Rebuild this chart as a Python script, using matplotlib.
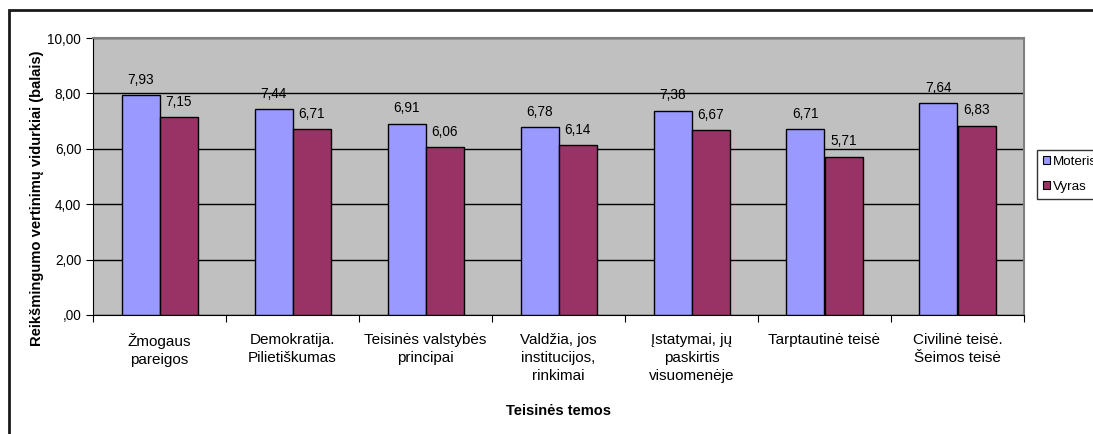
import matplotlib
matplotlib.use("Agg")
import matplotlib.pyplot as plt
import numpy as np
from matplotlib.patches import Rectangle

categories = ["Žmogaus\npareigos", "Demokratija.\nPilietiškumas", "Teisinės valstybės\nprincipai",
              "Valdžia, jos\ninstitucijos,\nrinkimai", "Įstatymai, jų\npaskirtis\nvisuomenėje",
              "Tarptautinė teisė", "Civilinė teisė.\nŠeimos teisė"]
moteris = [7.93, 7.44, 6.91, 6.78, 7.38, 6.71, 7.64]
vyras = [7.15, 6.71, 6.06, 6.14, 6.67, 5.71, 6.83]
yticks = [0, 2, 4, 6, 8, 10]
ytick_labels = [",00", "2,00", "4,00", "6,00", "8,00", "10,00"]

plt.rcParams['font.family'] = ['Liberation Sans', 'DejaVu Sans']

W, H = 1093, 434
fig = plt.figure(figsize=(W/100, H/100), dpi=100)
ax = fig.add_axes([93/W, 1-315/H, (1024-93)/W, (315-38)/H])
ax.set_facecolor("#C0C0C0")

x = np.arange(len(categories))
bw = 1/3.5
b1 = ax.bar(x - bw/2, moteris, bw, color="#9999FF", edgecolor="black", linewidth=1, label="Moteris", zorder=3)
b2 = ax.bar(x + bw/2, vyras, bw, color="#993366", edgecolor="black", linewidth=1, label="Vyras", zorder=3)

for rects, vals in ((b1, moteris), (b2, vyras)):
    for r, v in zip(rects, vals):
        ax.annotate(f"{v:.2f}".replace(".", ","), (r.get_x()+r.get_width()/2, v),
                    xytext=(0, 6), textcoords="offset points", ha="center", va="bottom",
                    fontsize=9.8, zorder=4)

ax.set_xlim(-0.5, len(categories)-0.5)
ax.set_ylim(0, 10)
ax.set_yticks(yticks)
ax.set_yticklabels(ytick_labels, fontsize=9.8)
ax.yaxis.grid(True, color="black", linewidth=1, zorder=1)
ax.set_axisbelow(True)

ax.set_xticks(np.arange(len(categories)+1) - 0.5, minor=False)
ax.set_xticklabels([])
ax.tick_params(axis="x", which="major", length=5, direction="out")
ax.set_xticks(x, minor=True)
ax.set_xticklabels(categories, minor=True, fontsize=11, linespacing=1.37, va="top")
ax.tick_params(axis="x", which="minor", length=0, pad=13)
ax.tick_params(axis="y", length=5, direction="out")

for s in ("top", "right"):
    ax.spines[s].set_color("#808080")
    ax.spines[s].set_linewidth(1.5)
for s in ("left", "bottom"):
    ax.spines[s].set_color("black")

ax.set_ylabel("Reikšmingumo vertinimų vidurkiai (balais)", fontsize=10.6, fontweight="bold")
ax.yaxis.set_label_coords((44-93)/931, (315-198)/277)
fig.text(558/W, 1-411/H, "Teisinės temos", ha="center", va="center", fontsize=10.5, fontweight="bold")

leg = fig.legend(handles=[b1, b2], labels=["Moteris", "Vyras"], loc="upper left",
                 bbox_to_anchor=(1037/W, 1-150/H), frameon=True, fancybox=False,
                 edgecolor="black", fontsize=9.6, handlelength=0.5, handleheight=0.5,
                 handletextpad=0.25, borderpad=0.45, labelspacing=0.95, borderaxespad=0)
leg.get_frame().set_linewidth(1)
for h in leg.legend_handles:
    h.set_linewidth(0.8)

fig.patches.append(Rectangle((9/W, -0.1), 1.2, 1.1 - 10.5/H, transform=fig.transFigure,
                             fill=False, edgecolor="#1a1a1a", linewidth=2, zorder=0))

fig.savefig("out.png", dpi=100)
